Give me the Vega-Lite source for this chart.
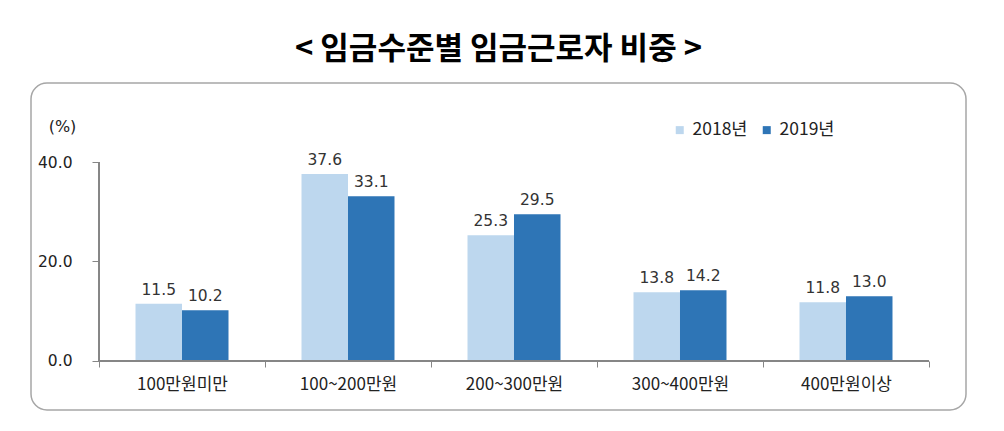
{
  "$schema": "https://vega.github.io/schema/vega-lite/v6.json",
  "autosize": "none",
  "width": 935,
  "height": 327,
  "padding": {"left": 31, "top": 83, "right": 38, "bottom": 21},
  "background": "white",
  "title": {
    "text": "< 임금수준별 임금근로자 비중 >",
    "font": "Noto Sans CJK KR",
    "fontSize": 31,
    "fontWeight": "bold",
    "color": "#000000",
    "anchor": "middle",
    "offset": 17
  },
  "config": {
    "view": {"stroke": "#a6a6a6", "strokeWidth": 1.5, "cornerRadius": 16},
    "axis": {"grid": false}
  },
  "data": {
    "values": [
      {"cat": "100만원미만", "year": "2018년", "v": 11.5},
      {"cat": "100만원미만", "year": "2019년", "v": 10.2},
      {"cat": "100~200만원", "year": "2018년", "v": 37.6},
      {"cat": "100~200만원", "year": "2019년", "v": 33.1},
      {"cat": "200~300만원", "year": "2018년", "v": 25.3},
      {"cat": "200~300만원", "year": "2019년", "v": 29.5},
      {"cat": "300~400만원", "year": "2018년", "v": 13.8},
      {"cat": "300~400만원", "year": "2019년", "v": 14.2},
      {"cat": "400만원이상", "year": "2018년", "v": 11.8},
      {"cat": "400만원이상", "year": "2019년", "v": 13.0}
    ]
  },
  "layer": [
    {
      "mark": {"type": "bar"},
      "encoding": {
        "x": {
          "field": "cat", "type": "nominal", "sort": null,
          "scale": {"paddingInner": 0, "paddingOuter": 0.3163, "align": 0.6476},
          "axis": {
            "title": null, "domain": false, "labelAngle": 0,
            "tickBand": "extent", "tickColor": "#868686", "tickSize": 6,
            "labelFont": "Noto Sans CJK KR", "labelFontSize": 17, "labelColor": "#222222",
            "labelPadding": 9, "offset": -49
          }
        },
        "xOffset": {"field": "year", "type": "nominal", "scale": {"paddingOuter": 0.785, "paddingInner": 0}},
        "y": {
          "field": "v", "type": "quantitative",
          "scale": {"domain": [-9.85, 55.88], "nice": false, "zero": false},
          "axis": {
            "values": [0, 20, 40], "format": ".1f", "domain": false,
            "tickColor": "#868686", "tickSize": 7, "labelPadding": 20,
            "labelFont": "DejaVu Sans", "labelFontSize": 15.5, "labelColor": "#222222",
            "offset": -68,
            "title": "(%)", "titleAngle": 0, "titleFont": "DejaVu Sans", "titleFontSize": 16,
            "titleFontWeight": "normal", "titleColor": "#222222",
            "titleAlign": "center", "titleBaseline": "middle",
            "titleX": -37, "titleY": 43
          }
        },
        "color": {
          "field": "year", "type": "nominal",
          "scale": {"range": ["#bdd7ee", "#2e75b6"]},
          "legend": {
            "title": null, "orient": "none", "direction": "horizontal",
            "legendX": 640, "legendY": 38, "padding": 0,
            "symbolType": "square", "symbolSize": 64, "symbolStrokeWidth": 0,
            "labelFont": "Noto Sans CJK KR", "labelFontSize": 17.5, "labelColor": "#222222",
            "labelOffset": 4, "columnPadding": 10
          }
        }
      }
    },
    {
      "mark": {"type": "text", "baseline": "bottom", "dy": -6, "font": "DejaVu Sans", "fontSize": 15.5, "color": "#333333"},
      "encoding": {
        "x": {"field": "cat", "type": "nominal", "sort": null},
        "xOffset": {"field": "year", "type": "nominal"},
        "y": {"field": "v", "type": "quantitative"},
        "text": {"field": "v", "type": "quantitative", "format": ".1f"}
      }
    },
    {
      "mark": {"type": "rule", "color": "#868686", "strokeWidth": 1},
      "encoding": {
        "x": {"datum": "100만원미만", "type": "nominal", "bandPosition": 0},
        "x2": {"datum": "400만원이상", "bandPosition": 1},
        "y": {"datum": 0, "type": "quantitative"}
      }
    },
    {
      "mark": {"type": "rule", "color": "#868686", "strokeWidth": 1},
      "encoding": {
        "x": {"datum": "100만원미만", "type": "nominal", "bandPosition": 0},
        "y": {"datum": 0, "type": "quantitative"},
        "y2": {"datum": 40}
      }
    }
  ]
}
